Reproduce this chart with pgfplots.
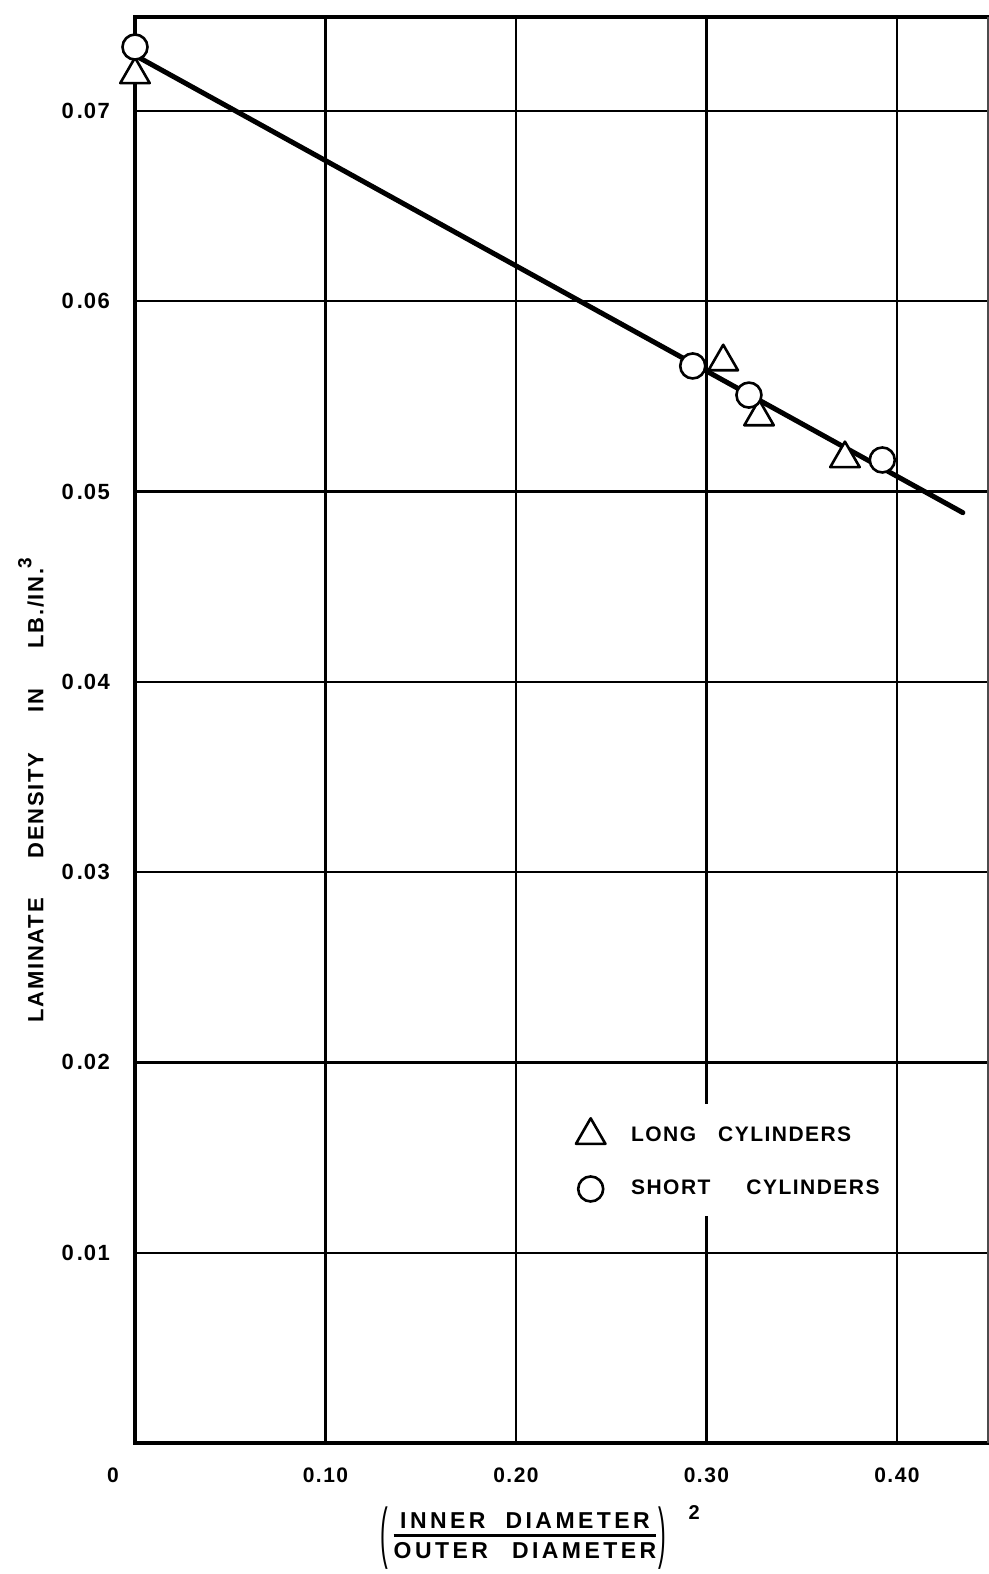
\documentclass[border=0pt]{standalone}
\usepackage{amsmath}
\usepackage{graphicx}
\usepackage{pgfplots}
\pgfplotsset{compat=1.18}
\usepackage{fontspec}
\setmainfont{Liberation Sans}[LetterSpace=7]
\newcommand{\lab}{\fontsize{10.5}{12}\selectfont\bfseries}
\newcommand{\ylab}[1]{0\hspace{1.5pt}.\hspace{0.5pt}#1}
\newcommand{\tallparen}[1]{\vcenter{\hbox{\scalebox{1.1}[3.2]{\mdseries #1}}}}
\begin{document}
\begin{tikzpicture}
\begin{axis}[
  name=ax,
  scale only axis,
  width=426.5pt, height=713pt,
  xmin=0, xmax=0.4478, ymin=0, ymax=0.07494,
  axis line style={draw=none},
  xtick={0.1,0.2,0.3,0.4},
  xticklabels={0.10,0.20,0.30,0.40},
  ytick={0.01,0.02,0.03,0.04,0.05,0.06,0.07},
  yticklabels={\ylab{01},\ylab{02},\ylab{03},\ylab{04},\ylab{05},\ylab{06},\ylab{07}},
  major tick length=0pt,
  grid=major,
  major grid style={black, line width=1.2pt},
  tick label style={font=\lab},
  yticklabel style={font=\fontsize{11}{12}\selectfont\bfseries, xshift=-9pt},
  xticklabel style={yshift=-8.75pt},
  clip=false,
  legend style={draw=none, fill=white, at={(axis cs:0.2283,0.01782)}, anchor=north west,
    inner xsep=0pt, inner ysep=7pt, font=\lab, row sep=14pt, cells={anchor=west}},
  legend image code/.code={\path (-10pt,0) (18pt,0); \draw[#1] plot coordinates {(0pt,0pt)};},
]
\draw[line width=2pt, line cap=rect] (rel axis cs:0,1) -- (rel axis cs:1,1);
\draw[line width=2pt, line cap=rect] (rel axis cs:0,0) -- (rel axis cs:0,1);
\draw[line width=2pt, line cap=rect] (rel axis cs:0,0) -- (rel axis cs:1,0);
\draw[line width=0.6pt, black!70] (rel axis cs:1,0) -- (rel axis cs:1,1);
\addplot[line width=2.5pt, line cap=round, forget plot] coordinates {(0.0026,0.07278) (0.4346,0.04889)};
\addplot[only marks, mark=triangle*, mark size=8.5pt,
  mark options={fill=white, draw=black, line width=1.3pt, line join=round}] coordinates {
  (0.0,0.07191) (0.3088,0.05682) (0.3276,0.05393) (0.3727,0.05173)};
\addlegendentry{LONG\hspace{11pt}CYLINDERS}
\addplot[only marks, mark=*, mark size=6.25pt,
  mark options={fill=white, draw=black, line width=1.3pt}] coordinates {
  (0.0,0.07336) (0.2928,0.05660) (0.3223,0.05507) (0.3923,0.05166)};
\addlegendentry{SHORT\hspace{18pt}CYLINDERS}
\node[font=\lab] at ([xshift=-11pt,yshift=-16pt]axis cs:0,0) {0};
\node[font=\fontsize{11}{12}\selectfont\bfseries\addfontfeature{LetterSpace=8}, rotate=90, anchor=base west, inner sep=0pt]
  at ([xshift=-45.8pt]rel axis cs:0,0.2945)
  {LAMINATE\hspace{20pt}DENSITY\hspace{20pt}IN\hspace{20pt}LB./IN.\raisebox{6pt}{\fontsize{9.5}{10}\selectfont 3}};
\node[font=\fontsize{10.5}{12}\selectfont\bfseries] at ([yshift=-47.7pt]axis cs:0.2037,0)
  {$\tallparen{(}\hspace{3pt}\vcenter{\hbox{\fontsize{11.5}{13}\selectfont\addfontfeature{LetterSpace=15}\setlength{\tabcolsep}{0pt}\setlength{\arrayrulewidth}{1.2pt}\renewcommand{\arraystretch}{0.75}%
   \begin{tabular}{c}INNER\hspace{10pt}DIAMETER\\\hline\rule{0pt}{10.7pt}OUTER\hspace{12pt}DIAMETER\end{tabular}}}\hspace{1pt}\tallparen{)}$};
\node[font=\fontsize{10}{12}\selectfont\bfseries] at ([yshift=-35pt]axis cs:0.2935,0) {2};
\end{axis}
\pgfresetboundingbox
\path ([xshift=-67.5pt, yshift=-65.5pt]ax.south west) rectangle ([xshift=0.5pt, yshift=8.5pt]ax.north east);
\end{tikzpicture}
\end{document}
